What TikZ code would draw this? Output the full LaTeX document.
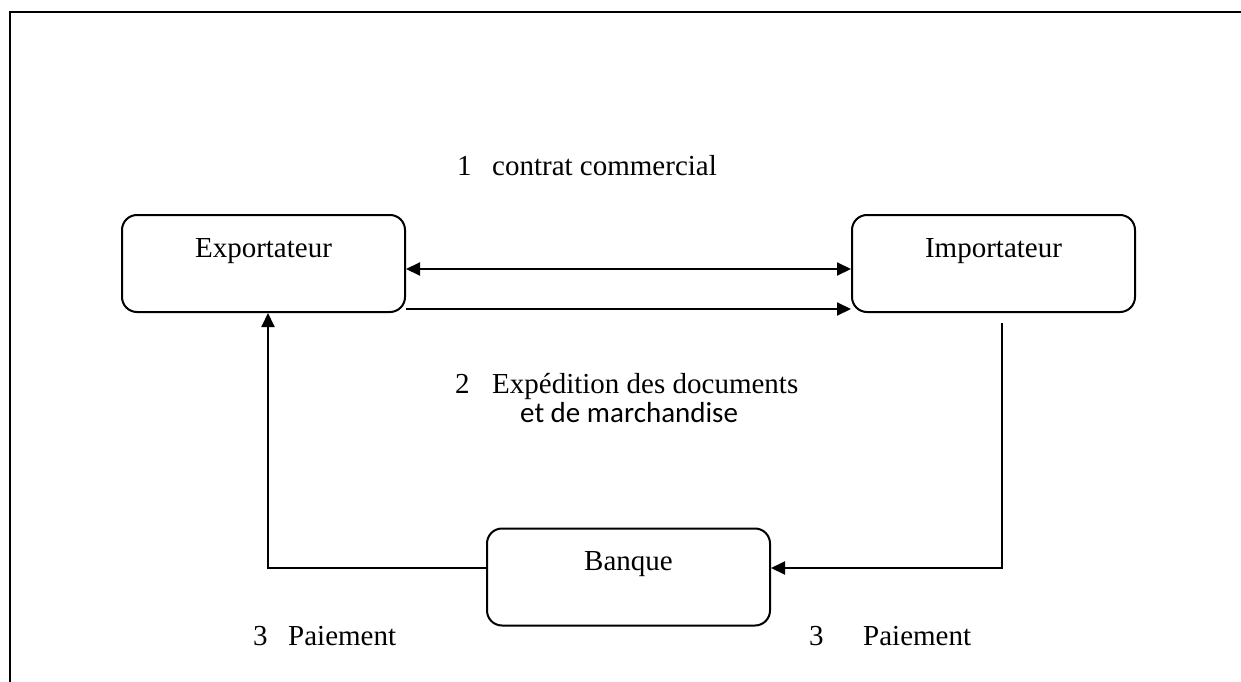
\documentclass[tikz,border=0pt]{standalone}
\usepackage{fontspec}
\setmainfont{Liberation Serif}
\newfontfamily\calibrifont{Carlito}
\usetikzlibrary{arrows.meta,calc}

\tikzset{
  txt/.style={font=\fontsize{29}{34}\selectfont, inner sep=0pt},
  party/.style={draw, line width=2pt, rounded corners=15pt,
    minimum width=283pt, minimum height=97pt, inner sep=0pt},
  boxname/.style={anchor=base, yshift=-43pt, inner sep=0pt,
    font=\fontsize{29}{34}\selectfont},
  flow/.style={line width=2pt, -{Triangle[length=14pt,width=13pt]}},
  flowboth/.style={line width=2pt, {Triangle[length=14pt,width=13pt]}-{Triangle[length=14pt,width=13pt]}},
  plain/.style={line width=2pt}
}

\begin{document}
\begin{tikzpicture}[x=1pt, y=-1pt]
  \useasboundingbox (0,0) rectangle (1241,682);

  % page frame (top and left edges)
  \draw[plain] (1241,12) -- (10,12) -- (10,682);

  % parties
  \node[party, label={[boxname]north:Exportateur}] (exp) at (263.5,263.5) {};
  \node[party, label={[boxname]north:Importateur}] (imp) at (993.5,263.5) {};
  \node[party, label={[boxname]north:Banque}] (ban) at (628.5,577) {};

  % 1: commercial contract (both ways)
  \draw[flowboth] ($(exp.east)+(0,5.5)$) -- ($(imp.west)+(0,5.5)$);
  % 2: shipment of documents and goods
  \draw[flow] ($(exp.east)+(0,45.5)$) -- ($(imp.west)+(0,45.5)$);

  % 3: payment via the bank
  \coordinate (impout) at ($(imp.south)+(8.5,10)$);
  \draw[flow] (impout) |- ($(ban.east)+(0,-9)$);
  \draw[flow] ($(ban.west)+(0,-9)$) -| ($(exp.south)+(4.5,0)$);

  % step labels
  \node[txt, anchor=base west] (n1) at (457,175) {1};
  \node[txt, anchor=base west] (t1) at (492,175) {contrat commercial};
  \node[txt, anchor=base west] (n2) at (455,393) {2};
  \node[txt, anchor=base west] (t2) at (492,393) {Expédition des documents};
  \node[txt, anchor=base west, font=\calibrifont\fontsize{29}{34}\selectfont] (t2b) at (520,422) {et de marchandise};
  \node[txt, anchor=base west] (n3a) at (253,645) {3};
  \node[txt, anchor=base west] (t3a) at (288,645) {Paiement};
  \node[txt, anchor=base west] (n3b) at (809,645) {3};
  \node[txt, anchor=base west] (t3b) at (863,645) {Paiement};
\end{tikzpicture}
\end{document}
